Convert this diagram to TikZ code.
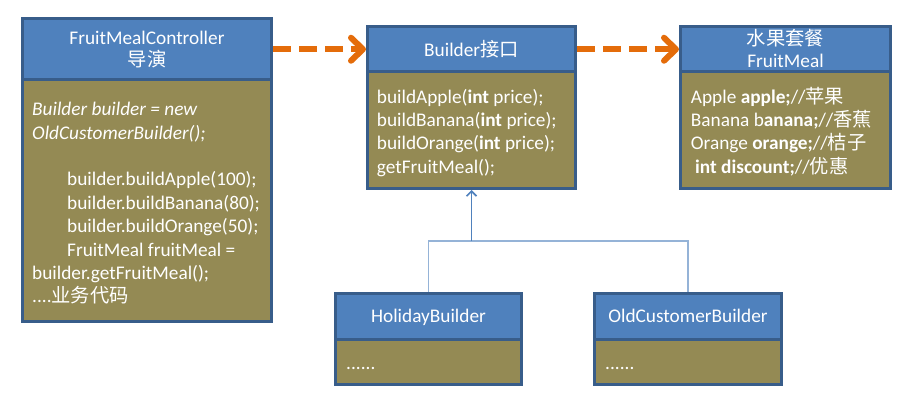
\documentclass[tikz,border=0pt]{standalone}
\usepackage{fontspec}
\setmainfont{Carlito}
\newfontfamily\cjk{Noto Sans CJK SC}
\usetikzlibrary{arrows.meta}
\definecolor{hdrblue}{HTML}{4F81BD}
\definecolor{bodyolive}{HTML}{948A54}
\definecolor{edgeblue}{HTML}{385D8A}
\definecolor{arrorange}{HTML}{E46C0A}
\definecolor{branchblue}{HTML}{95B3D7}
\definecolor{linkblue}{HTML}{4F81BD}
\begin{document}
\begin{tikzpicture}[x=1pt,y=-1pt,
  boxpart/.style={draw=edgeblue, line width=3pt, inner sep=0pt, rectangle},
  hdr/.style={boxpart, fill=hdrblue},
  bdy/.style={boxpart, fill=bodyolive},
  ltxt/.style={text=white, inner sep=0pt, anchor=base west, font=\fontsize{19.3}{23}\selectfont},
  ctxt/.style={text=white, inner sep=0pt, anchor=base, font=\fontsize{19.3}{23}\selectfont},
  flow/.style={arrorange, line width=6pt, dash pattern=on 18pt off 8pt,
    -{Straight Barb[length=12pt,width=23pt,round]}},
  uparrow/.style={linkblue, line width=1.6pt, -{Straight Barb[length=5pt,width=10pt]}},
  branch/.style={branchblue, line width=1.6pt}]
\useasboundingbox (0,0) rectangle (918,414);
\fill[white] (0,0) rectangle (918,414);

% Controller box
\node[bdy, minimum width=249pt, minimum height=241.5pt] (cB) at (147,200.75) {};
\node[hdr, minimum width=249pt, minimum height=61.5pt] (cH) at (147,49.25) {};
\node[ctxt] (cT1) at (147,45) {FruitMealController};
\node[ctxt] (cT2) at (147,66.5) {\cjk 导演};
\node[ltxt] (c1) at (32,116) {\textit{Builder builder = new}};
\node[ltxt] (c2) at (32,139.3) {\textit{OldCustomerBuilder();}};
\node[ltxt] (c3) at (67,186) {builder.buildApple(100);};
\node[ltxt] (c4) at (67,209.3) {builder.buildBanana(80);};
\node[ltxt] (c5) at (67,232.6) {builder.buildOrange(50);};
\node[ltxt] (c6) at (67,256) {FruitMeal fruitMeal =};
\node[ltxt] (c7) at (32,279.3) {builder.getFruitMeal();};
\node[ltxt] (c8) at (32,302.6) {....{\cjk 业务代码}};

% Builder box
\node[bdy, minimum width=208pt, minimum height=116.5pt] (bB) at (471.5,130.25) {};
\node[hdr, minimum width=208pt, minimum height=45.5pt] (bH) at (471.5,49.25) {};
\node[ctxt] (bT) at (471.5,56.7) {Builder{\cjk 接口}};
\node[ltxt] (b1) at (376.7,103.3) {buildApple(\textbf{int} price);};
\node[ltxt] (b2) at (376.7,126.6) {buildBanana(\textbf{int} price);};
\node[ltxt] (b3) at (376.7,150) {buildOrange(\textbf{int} price);};
\node[ltxt] (b4) at (376.7,173.3) {getFruitMeal();};

% FruitMeal box
\node[bdy, minimum width=210pt, minimum height=116.5pt] (fB) at (785.5,130.25) {};
\node[hdr, minimum width=210pt, minimum height=45.5pt] (fH) at (785.5,49.25) {};
\node[ctxt] (fT1) at (785.5,45.5) {\cjk 水果套餐};
\node[ctxt] (fT2) at (785.5,67.5) {FruitMeal};
\node[ltxt] (f1) at (690.7,103.3) {Apple \textbf{apple;}//{\cjk 苹果}};
\node[ltxt] (f2) at (690.7,126.6) {Banana b\textbf{anana;}//{\cjk 香蕉}};
\node[ltxt] (f3) at (690.7,150) {Orange \textbf{orange;}//{\cjk 桔子}};
\node[ltxt] (f4) at (695,173.3) {\textbf{int discount;}//{\cjk 优惠}};

% HolidayBuilder box
\node[bdy, minimum width=186pt, minimum height=45.5pt] (hB) at (428.5,361.75) {};
\node[hdr, minimum width=186pt, minimum height=45.5pt] (hH) at (428.5,316.25) {};
\node[ctxt] (hT) at (428.5,322.7) {HolidayBuilder};
\node[ltxt] (h1) at (346,369) {......};

% OldCustomerBuilder box
\node[bdy, minimum width=187pt, minimum height=45.5pt] (oB) at (688,361.75) {};
\node[hdr, minimum width=187pt, minimum height=45.5pt] (oH) at (688,316.25) {};
\node[ctxt] (oT) at (688,322.7) {OldCustomerBuilder};
\node[ltxt] (o1) at (605,369) {......};

% connectors
\draw[flow] (bH.west -| cH.east) -- (bH.west);
\draw[flow] (bH.east) -- (fH.west);
\coordinate (J) at (471.5,241);
\draw[branch] (hH.north) |- (J) -| (oH.north);
\draw[uparrow] (J) -- (bB.south);
\end{tikzpicture}
\end{document}
